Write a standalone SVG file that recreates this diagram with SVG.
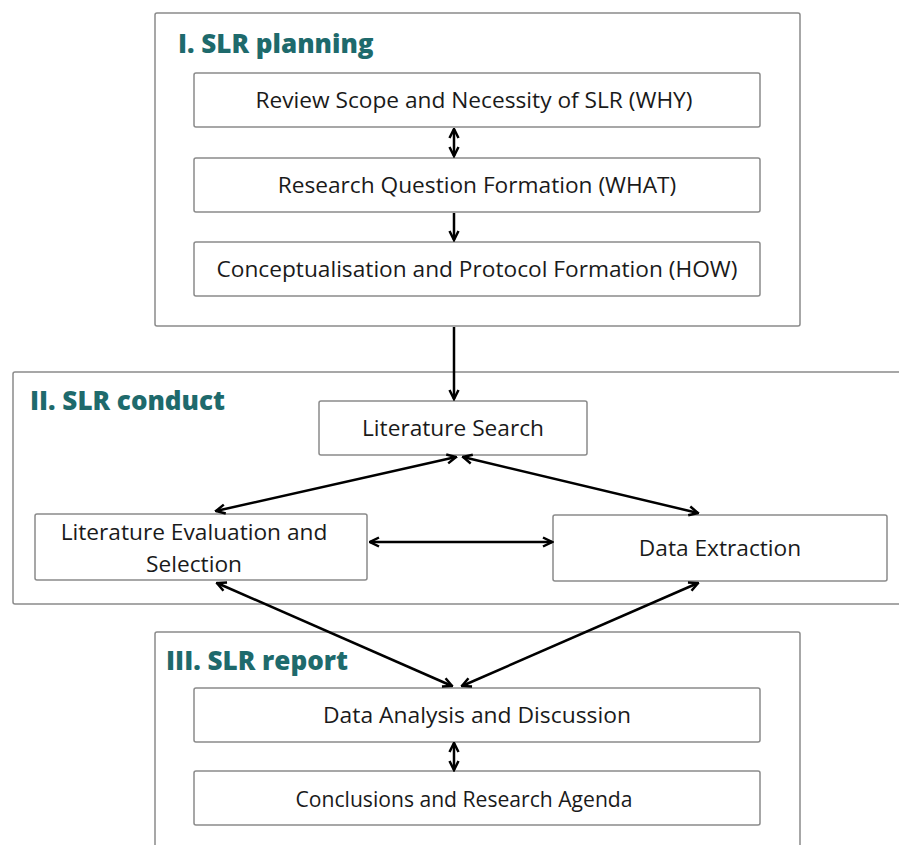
<svg xmlns="http://www.w3.org/2000/svg" width="899" height="845" viewBox="0 0 899 845">
<defs>
<style>
.panel{fill:#fff;stroke:#8a8a8a;stroke-width:1.5}
.box{fill:#fff;stroke:#8a8a8a;stroke-width:1.5}
.t{font-family:"Open Sans","Liberation Sans",sans-serif;font-size:22.7px;fill:#1a1a1a;text-anchor:middle}
.h{font-family:"Open Sans","Liberation Sans",sans-serif;font-size:26px;font-weight:800;fill:#1e6a6c}
.c{fill:none;stroke:#000;stroke-width:2.5}
</style>
<marker id="ah" viewBox="0 0 12 12" refX="10.5" refY="6" markerWidth="12" markerHeight="12" markerUnits="userSpaceOnUse" orient="auto-start-reverse">
<path d="M1.5,1.5 L10.5,6 L1.5,10.5" fill="none" stroke="#000" stroke-width="2.5"/>
</marker>
</defs>
<rect width="899" height="845" fill="#fff"/>

<g id="panel-planning">
<rect class="panel" x="155" y="13" width="645" height="313" rx="2"/>
<text class="h" x="178" y="53">I. SLR planning</text>
</g>
<g id="panel-conduct">
<rect class="panel" x="13" y="372" width="900" height="232" rx="2"/>
<text class="h" x="30" y="410">II. SLR conduct</text>
</g>
<g id="panel-report">
<rect class="panel" x="155" y="632" width="645" height="230" rx="2"/>
<text class="h" x="166" y="670" textLength="182" lengthAdjust="spacingAndGlyphs">III. SLR report</text>
</g>

<g id="n-why">
<rect class="box" x="194" y="73" width="566" height="54" rx="2"/>
<text class="t" x="474" y="108">Review Scope and Necessity of SLR (WHY)</text>
</g>
<g id="n-what">
<rect class="box" x="194" y="158" width="566" height="54" rx="2"/>
<text class="t" x="477" y="193">Research Question Formation (WHAT)</text>
</g>
<g id="n-how">
<rect class="box" x="194" y="242" width="566" height="54" rx="2"/>
<text class="t" x="477" y="277">Conceptualisation and Protocol Formation (HOW)</text>
</g>
<g id="n-search">
<rect class="box" x="319" y="401" width="268" height="54" rx="2"/>
<text class="t" x="453" y="436">Literature Search</text>
</g>
<g id="n-eval">
<rect class="box" x="35" y="514" width="332" height="66" rx="2"/>
<text class="t" x="194" y="540">Literature Evaluation and</text>
<text class="t" x="194" y="572">Selection</text>
</g>
<g id="n-extract">
<rect class="box" x="553" y="515" width="334" height="66" rx="2"/>
<text class="t" x="720" y="556">Data Extraction</text>
</g>
<g id="n-analysis">
<rect class="box" x="194" y="688" width="566" height="54" rx="2"/>
<text class="t" x="477" y="723" textLength="308" lengthAdjust="spacingAndGlyphs">Data Analysis and Discussion</text>
</g>
<g id="n-conclusions">
<rect class="box" x="194" y="771" width="566" height="54" rx="2"/>
<text class="t" x="464" y="807" textLength="337" lengthAdjust="spacingAndGlyphs">Conclusions and Research Agenda</text>
</g>

<g id="connectors">
<line class="c" x1="454" y1="129" x2="454" y2="156" marker-start="url(#ah)" marker-end="url(#ah)"/>
<line class="c" x1="454" y1="213" x2="454" y2="240" marker-end="url(#ah)"/>
<line class="c" x1="454" y1="327" x2="454" y2="399" marker-end="url(#ah)"/>
<line class="c" x1="456" y1="457" x2="216" y2="511" marker-start="url(#ah)" marker-end="url(#ah)"/>
<line class="c" x1="463" y1="457" x2="698" y2="513" marker-start="url(#ah)" marker-end="url(#ah)"/>
<line class="c" x1="370" y1="542" x2="552" y2="542" marker-start="url(#ah)" marker-end="url(#ah)"/>
<line class="c" x1="217" y1="583" x2="452" y2="686" marker-start="url(#ah)" marker-end="url(#ah)"/>
<line class="c" x1="698" y1="583" x2="462" y2="686" marker-start="url(#ah)" marker-end="url(#ah)"/>
<line class="c" x1="454" y1="743" x2="454" y2="770" marker-start="url(#ah)" marker-end="url(#ah)"/>
</g>
</svg>
